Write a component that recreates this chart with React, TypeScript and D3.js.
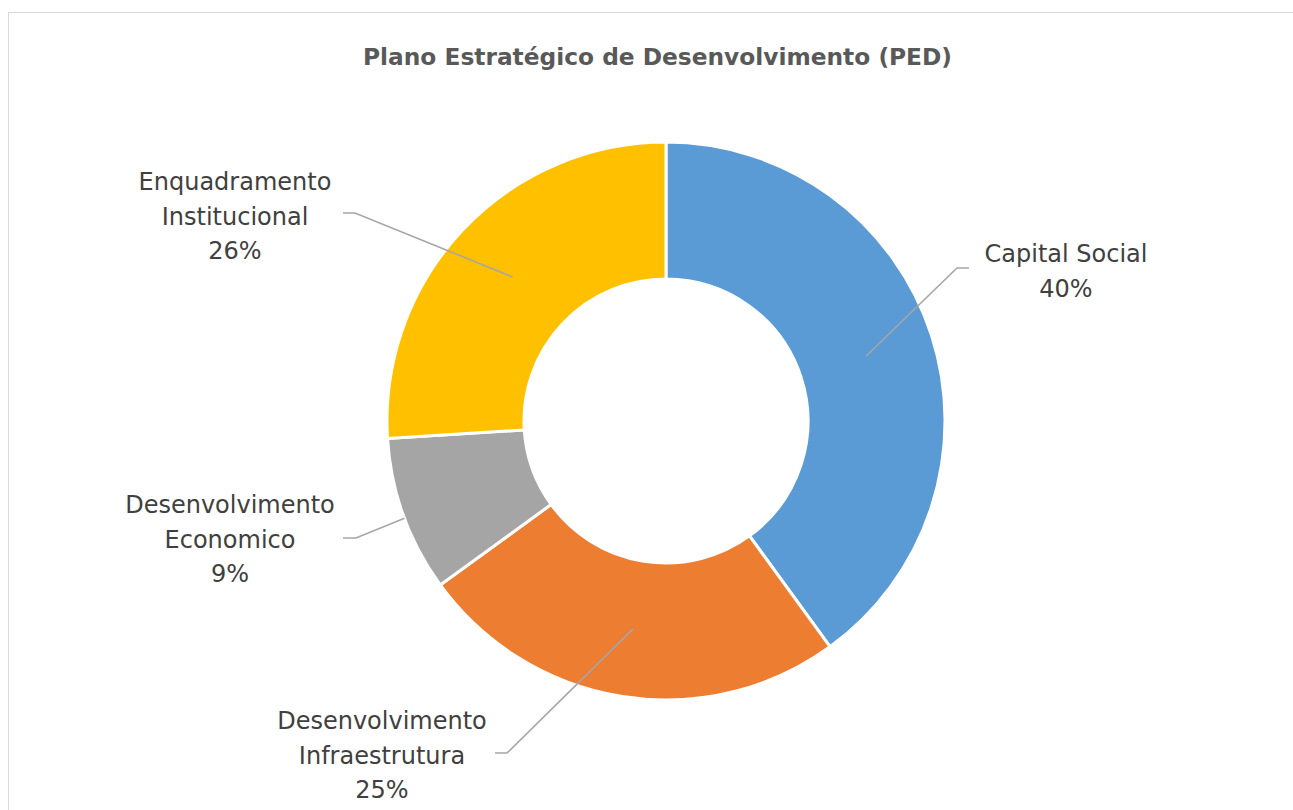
import React from "react";
import * as d3 from "d3";

const title = "Plano Estratégico de Desenvolvimento (PED)";
const categories = [
  "Capital Social",
  "Desenvolvimento Infraestrutura",
  "Desenvolvimento Economico",
  "Enquadramento Institucional",
];
const values = [40, 25, 9, 26];
const labelLines = [
  ["Capital Social"],
  ["Desenvolvimento", "Infraestrutura"],
  ["Desenvolvimento", "Economico"],
  ["Enquadramento", "Institucional"],
];
const colors = ["#5B9BD5", "#ED7D31", "#A5A5A5", "#FFC000"];

// label layout (text centre, first baseline, elbow of leader line, end of leader)
const labelLayout = [
  { x: 1066, y: 262, ex: 957, ey: 268, endX: 969, clipOuter: false },
  { x: 382, y: 729, ex: 507, ey: 753, endX: 495, clipOuter: false },
  { x: 230, y: 513, ex: 356, ey: 538, endX: 343, clipOuter: true },
  { x: 235, y: 190, ex: 355, ey: 213, endX: 343, clipOuter: false },
];

const W = 1293;
const H = 810;
const cx = 666;
const cy = 421;
const outerR = 279;
const innerR = 142;
const lineH = 34.5;
const font = "'DejaVu Sans', sans-serif";

export default function App() {
  const total = d3.sum(values);
  const pie = d3
    .pie<number>()
    .sort(null)
    .value((d) => d);
  const arcs = pie(values);
  const arcGen = d3
    .arc<d3.PieArcDatum<number>>()
    .innerRadius(innerR)
    .outerRadius(outerR);

  return (
    <svg
      width={W}
      height={H}
      style={{ position: "absolute", left: 0, top: 0, background: "#fff" }}
    >
      <rect x={0} y={0} width={W} height={H} fill="#fff" />
      <rect
        x={8.5}
        y={12.5}
        width={W + 20}
        height={H + 20}
        fill="none"
        stroke="#D9D9D9"
        strokeWidth={1}
      />
      <text
        x={657.5}
        y={65}
        textAnchor="middle"
        fontFamily={font}
        fontWeight="bold"
        fontSize={23.3}
        fill="#595959"
      >
        {title}
      </text>
      <g transform={`translate(${cx},${cy})`}>
        {arcs.map((a, i) => (
          <path
            key={categories[i]}
            d={arcGen(a) || ""}
            fill={colors[i]}
            stroke="#fff"
            strokeWidth={3}
          />
        ))}
      </g>
      {arcs.map((a, i) => {
        const L = labelLayout[i];
        const [mx, my] = arcGen.centroid(a);
        let sx = cx + mx;
        let sy = cy + my;
        if (L.clipOuter) {
          const dx = cx + mx - L.ex;
          const dy = cy + my - L.ey;
          const fx = L.ex - cx;
          const fy = L.ey - cy;
          const A = dx * dx + dy * dy;
          const B = 2 * (fx * dx + fy * dy);
          const C = fx * fx + fy * fy - outerR * outerR;
          const disc = B * B - 4 * A * C;
          if (disc >= 0) {
            const t = (-B - Math.sqrt(disc)) / (2 * A);
            sx = L.ex + t * dx;
            sy = L.ey + t * dy;
          }
        }
        const pct = Math.round((values[i] / total) * 100) + "%";
        const lines = [...labelLines[i], pct];
        return (
          <g key={"lab" + i}>
            <polyline
              points={`${sx},${sy} ${L.ex},${L.ey} ${L.endX},${L.ey}`}
              fill="none"
              stroke="#A6A6A6"
              strokeWidth={1.6}
            />
            <text
              x={L.x}
              y={L.y}
              textAnchor="middle"
              fontFamily={font}
              fontSize={24}
              fill="#404040"
            >
              {lines.map((t, j) => (
                <tspan key={j} x={L.x} y={L.y + j * lineH}>
                  {t}
                </tspan>
              ))}
            </text>
          </g>
        );
      })}
    </svg>
  );
}
